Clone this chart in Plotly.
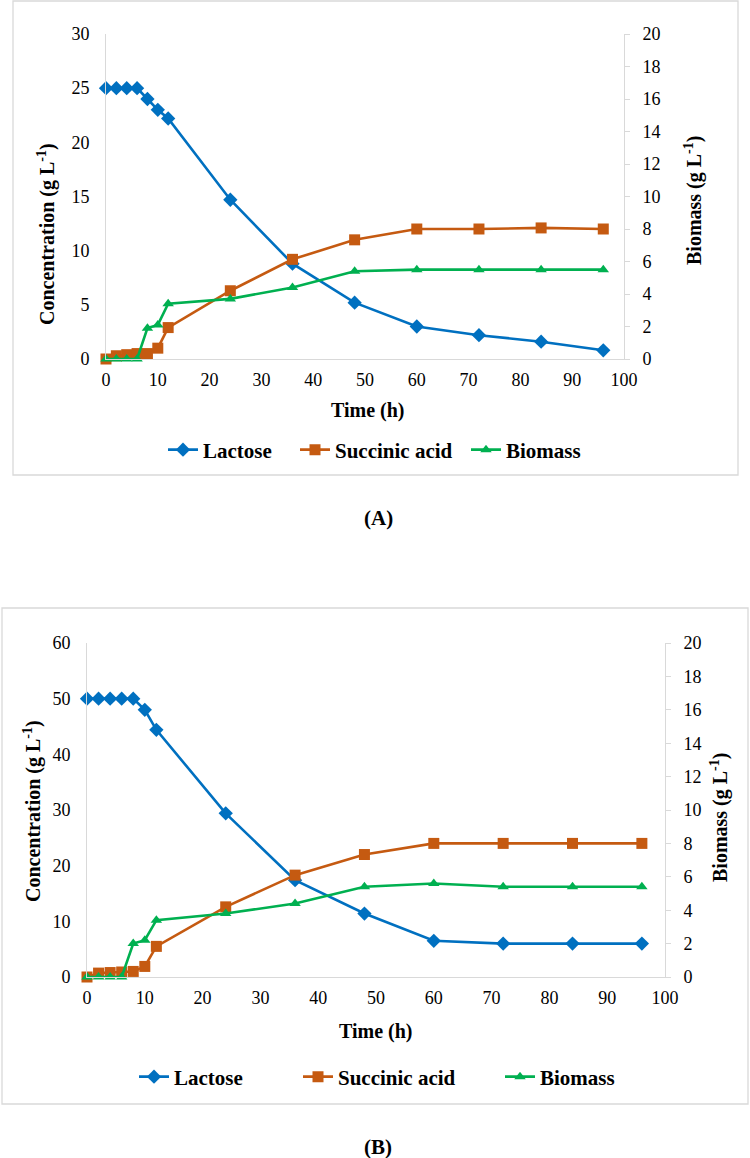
import plotly.graph_objects as go

# ---------------- data ----------------
time_h = [0, 2, 4, 6, 8, 10, 12, 24, 36, 48, 60, 72, 84, 96]

lactose_a = [25, 25, 25, 25, 24, 23, 22.2, 14.7, 8.8, 5.2, 3.0, 2.2, 1.6, 0.8]
succinic_a = [0, 0.3, 0.4, 0.5, 0.5, 1.0, 2.9, 6.3, 9.2, 11.0, 12.0, 12.0, 12.1, 12.0]
biomass_a = [0, 0, 0, 0, 1.9, 2.1, 3.4, 3.7, 4.4, 5.4, 5.5, 5.5, 5.5, 5.5]

lactose_b = [50, 50, 50, 50, 50, 48, 44.4, 29.4, 17.4, 11.4, 6.5, 6.0, 6.0, 6.0]
succinic_b = [0, 0.7, 0.8, 0.9, 1.0, 1.9, 5.5, 12.6, 18.3, 22.0, 24.0, 24.0, 24.0, 24.0]
biomass_b = [0, 0, 0, 0, 2.0, 2.2, 3.4, 3.8, 4.4, 5.4, 5.6, 5.4, 5.4, 5.4]

series_names = ["Lactose", "Succinic acid", "Biomass"]
x_title = "Time (h)"
left_title = "Concentration (g L<sup>-1</sup>)"
right_title = "Biomass (g L<sup>-1</sup>)"
panel_labels = ["(A)", "(B)"]

# ---------------- style ----------------
W, H = 750, 1158
BLUE, ORANGE, GREEN = "#0070C0", "#C55A11", "#00B050"
AXC = "#D9D9D9"
FONT = "'Liberation Serif', 'Times New Roman', 'DejaVu Serif', serif"


def fx(px):
    return px / W


def fy(py):
    return 1 - py / H


fig = go.Figure()

panels = [
    dict(x="x", yl="y", yr="y2", legends=["legend", "legend2", "legend3"],
         data=(lactose_a, succinic_a, biomass_a)),
    dict(x="x2", yl="y3", yr="y4", legends=["legend4", "legend5", "legend6"],
         data=(lactose_b, succinic_b, biomass_b)),
]

styles = [
    (BLUE, "diamond", 11),
    (ORANGE, "square", 11),
    (GREEN, "triangle-up", 10),
]

for p in panels:
    for i, (vals, (col, sym, sz)) in enumerate(zip(p["data"], styles)):
        yax = p["yr"] if i == 2 else p["yl"]
        fig.add_trace(go.Scatter(
            x=time_h, y=vals, name="<b>" + series_names[i] + "</b>",
            mode="lines+markers",
            line=dict(color=col, width=2.6),
            marker=dict(symbol=sym, size=sz, color=col),
            xaxis=p["x"], yaxis=yax, legend=p["legends"][i],
            cliponaxis=False,
        ))

tickfont = dict(family=FONT, size=18, color="black")
common_x = dict(range=[0, 100], dtick=10, showline=True, linecolor=AXC,
                linewidth=1, showgrid=False, zeroline=False, ticks="",
                tickfont=tickfont, fixedrange=True, ticklabelstandoff=4)
common_yl = dict(showline=True, linecolor=AXC, linewidth=1, showgrid=False,
                 zeroline=False, ticks="", tickfont=tickfont,
                 ticklabelstandoff=12)
common_yr = dict(showline=True, linecolor=AXC, linewidth=1, showgrid=False,
                 zeroline=False, ticks="outside", ticklen=5, tickcolor=AXC,
                 tickfont=tickfont, side="right", range=[0, 20], dtick=2,
                 ticklabelstandoff=9)

legfont = dict(family=FONT, size=21, color="black")


def leg(xl, yc):
    return dict(orientation="h", x=fx(xl), xanchor="left", y=fy(yc),
                yanchor="middle", font=legfont, bgcolor="rgba(0,0,0,0)")


fig.update_layout(
    width=W, height=H,
    margin=dict(l=0, r=0, t=0, b=0, autoexpand=False),
    paper_bgcolor="white", plot_bgcolor="rgba(0,0,0,0)",
    xaxis=dict(domain=[fx(106), fx(624)], anchor="y", **common_x),
    yaxis=dict(domain=[fy(359), fy(34)], anchor="x", range=[0, 30], dtick=5,
               **common_yl),
    yaxis2=dict(overlaying="y", anchor="x", **common_yr),
    xaxis2=dict(domain=[fx(87), fx(665)], anchor="y3", **common_x),
    yaxis3=dict(domain=[fy(977), fy(643)], anchor="x2", range=[0, 60],
                dtick=10, **common_yl),
    yaxis4=dict(overlaying="y3", anchor="x2", **common_yr),
    legend=leg(163, 450),
    legend2=leg(295, 450),
    legend3=leg(466, 450),
    legend4=leg(134, 1077),
    legend5=leg(298, 1077),
    legend6=leg(500, 1077),
    showlegend=True,
)

# panel borders
for (x0, x1, y0, y1) in [(13, 738, 1, 475), (2, 748, 608, 1104)]:
    fig.add_shape(type="rect", xref="paper", yref="paper",
                  x0=fx(x0), x1=fx(x1), y0=fy(y1), y1=fy(y0),
                  line=dict(color=AXC, width=1.3), fillcolor="rgba(0,0,0,0)")


def ann(text, x, y, angle=0, size=20):
    fig.add_annotation(text="<b>" + text + "</b>", xref="paper", yref="paper",
                       x=fx(x), y=fy(y),
                       xanchor="center", yanchor="middle", showarrow=False,
                       textangle=angle,
                       font=dict(family=FONT, size=size, color="black"))


ann(left_title, 46, 234, -90)
ann(right_title, 694, 201, -90)
ann(x_title, 368, 411)
ann(left_title, 32, 811, -90)
ann(right_title, 719, 818, -90)
ann(x_title, 376, 1031)
ann(panel_labels[0], 378, 518, size=21)
ann(panel_labels[1], 378, 1147, size=21)

fig.write_html("out.html", config={"displayModeBar": False},
               post_script="document.body.style.margin='0';")
